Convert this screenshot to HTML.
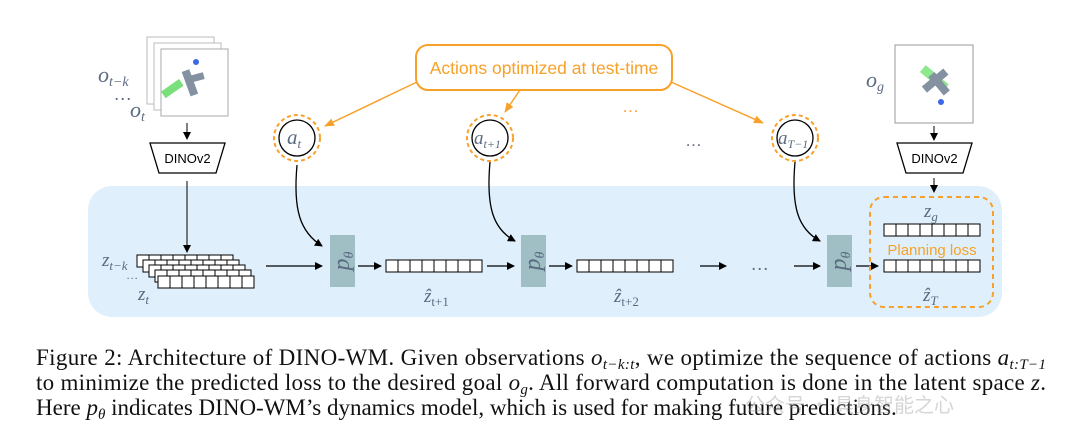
<!DOCTYPE html>
<html><head><meta charset="utf-8"><style>
html,body{margin:0;padding:0;background:#fff;}
svg{display:block}
.cap{font-family:"Liberation Serif",serif;font-size:23px;fill:#111}
.m{font-family:"Liberation Serif",serif;font-style:italic;fill:#5a6a80}
.s{font-family:"Liberation Sans",sans-serif}
</style></head><body>
<svg width="1080" height="433" viewBox="0 0 1080 433" xmlns="http://www.w3.org/2000/svg">
<defs>
<marker id="ab" markerWidth="8" markerHeight="8" refX="7" refY="4" orient="auto" markerUnits="userSpaceOnUse"><path d="M0,0 L8,4 L0,8 z" fill="#000"/></marker>
<marker id="ao" markerWidth="10" markerHeight="8" refX="9" refY="4" orient="auto" markerUnits="userSpaceOnUse"><path d="M0,0 L10,4 L0,8 z" fill="#f7a12a"/></marker>
<g id="vec"><rect x="0" y="0" width="96" height="12" fill="#fff" stroke="#000" stroke-width="1"/>
<path d="M12,0v12M24,0v12M36,0v12M48,0v12M60,0v12M72,0v12M84,0v12" stroke="#000" stroke-width="1"/></g>
</defs>
<rect x="88" y="186" width="914" height="131" rx="24" fill="#dff0fc"/>
<rect x="147" y="37" width="67" height="67" fill="#fff" stroke="#bbb"/>
<rect x="154" y="43" width="67" height="67" fill="#fff" stroke="#bbb"/>
<rect x="161" y="49" width="67" height="67" fill="#fff" stroke="#aaa"/>
<g transform="translate(190,86)">
<rect x="-12" y="5" width="8" height="22" fill="#7be07b" transform="rotate(55)"/>
<rect x="-3" y="-16" width="8" height="26" fill="#8391a1" transform="rotate(-20)"/>
<rect x="0" y="-10" width="16" height="7" fill="#8391a1" transform="rotate(-15)"/>
</g>
<circle cx="196" cy="62" r="3" fill="#3a68e6"/>
<text x="98" y="82" class="m" font-size="22">o<tspan font-size="14" dy="4">t−k</tspan></text>
<text x="115" y="100" class="m" font-size="18">…</text>
<text x="130" y="117" class="m" font-size="22">o<tspan font-size="14" dy="4">t</tspan></text>
<line x1="187" y1="123" x2="187" y2="139" stroke="#000" marker-end="url(#ab)"/>
<path d="M150,143 L225,143 L216,173 L159,173 Z" fill="#fff" stroke="#000" stroke-width="1.3"/>
<text x="187.5" y="163" text-anchor="middle" class="s" font-size="13">DINOv2</text>
<line x1="187" y1="181" x2="187" y2="252" stroke="#000" marker-end="url(#ab)"/>
<use href="#vec" x="137" y="255"/>
<use href="#vec" x="143" y="260"/>
<use href="#vec" x="149" y="265"/>
<use href="#vec" x="155" y="270"/>
<use href="#vec" x="158" y="276"/>
<text x="102" y="266" class="m" font-size="19">z<tspan font-size="13" dy="4">t−k</tspan></text>
<text x="127" y="279" class="m" font-size="12">…</text>
<text x="138" y="300" class="m" font-size="19">z<tspan font-size="13" dy="4">t</tspan></text>
<line x1="266" y1="266" x2="322" y2="266" stroke="#000" stroke-width="1.3" marker-end="url(#ab)"/>
<g id="p1"><rect x="330" y="235" width="25" height="52" fill="#9fbfc5"/>
<text transform="translate(349,261) rotate(-90)" text-anchor="middle" class="m" font-size="24" fill="#556">p<tspan font-size="14" dy="4">θ</tspan></text></g>
<use href="#p1" x="191"/>
<use href="#p1" x="497"/>
<line x1="358" y1="266" x2="381" y2="266" stroke="#000" stroke-width="1.3" marker-end="url(#ab)"/>
<use href="#vec" x="386" y="260"/>
<text x="424" y="302" class="m" font-size="19">ẑ<tspan font-size="13" dy="4" font-style="normal">t+1</tspan></text>
<line x1="487" y1="266" x2="514" y2="266" stroke="#000" stroke-width="1.3" marker-end="url(#ab)"/>
<line x1="549" y1="266" x2="572" y2="266" stroke="#000" stroke-width="1.3" marker-end="url(#ab)"/>
<use href="#vec" x="577" y="260"/>
<text x="614" y="302" class="m" font-size="19">ẑ<tspan font-size="13" dy="4" font-style="normal">t+2</tspan></text>
<line x1="700" y1="266" x2="726" y2="266" stroke="#000" stroke-width="1.3" marker-end="url(#ab)"/>
<text x="752" y="270" class="m" font-size="18" fill="#555">…</text>
<line x1="794" y1="266" x2="820" y2="266" stroke="#000" stroke-width="1.3" marker-end="url(#ab)"/>
<line x1="856" y1="266" x2="878" y2="266" stroke="#000" stroke-width="1.3" marker-end="url(#ab)"/>
<rect x="870" y="197" width="123" height="110" rx="14" fill="none" stroke="#f7a12a" stroke-width="2" stroke-dasharray="5,4"/>
<text x="924" y="217" class="m" font-size="19">z<tspan font-size="13" dy="4">g</tspan></text>
<use href="#vec" x="884" y="224"/>
<text x="932" y="255" text-anchor="middle" class="s" font-size="15" fill="#f7a12a">Planning loss</text>
<use href="#vec" x="884" y="260"/>
<text x="923" y="301" class="m" font-size="19">ẑ<tspan font-size="13" dy="4">T</tspan></text>
<rect x="895" y="45" width="78" height="78" fill="#fff" stroke="#999"/>
<g transform="translate(935,82)">
<rect x="-18" y="-7" width="30" height="9" fill="#8ee88e" transform="rotate(40)"/>
<rect x="-5" y="-15" width="8" height="28" fill="#8391a1" transform="rotate(50)"/>
<rect x="-2" y="-8" width="8" height="24" fill="#8391a1" transform="rotate(-40)"/>
</g>
<circle cx="941" cy="102" r="3" fill="#3a68e6"/>
<text x="866" y="87" class="m" font-size="22">o<tspan font-size="14" dy="4">g</tspan></text>
<line x1="934" y1="126" x2="934" y2="140" stroke="#000" marker-end="url(#ab)"/>
<path d="M897,143 L972,143 L963,173 L906,173 Z" fill="#fff" stroke="#000" stroke-width="1.3"/>
<text x="934.5" y="163" text-anchor="middle" class="s" font-size="13">DINOv2</text>
<line x1="934" y1="178" x2="934" y2="192" stroke="#000" marker-end="url(#ab)"/>
<rect x="416" y="45" width="256" height="45" rx="12" fill="#fff" stroke="#f7a12a" stroke-width="2"/>
<text x="544" y="74" text-anchor="middle" class="s" font-size="17.5" fill="#f7a12a">Actions optimized at test-time</text>
<line x1="417" y1="82" x2="325" y2="126" stroke="#f7a12a" stroke-width="1.5" marker-end="url(#ao)"/>
<line x1="520" y1="90" x2="505" y2="112" stroke="#f7a12a" stroke-width="1.5" marker-end="url(#ao)"/>
<line x1="671" y1="82" x2="763" y2="123" stroke="#f7a12a" stroke-width="1.5" marker-end="url(#ao)"/>
<text x="622" y="112" class="s" font-size="17" fill="#f7a12a">…</text>
<text x="685" y="146" class="s" font-size="17" fill="#667">…</text>
<g fill="#fff">
<circle cx="297" cy="138" r="23" fill="none" stroke="#f7a12a" stroke-width="2" stroke-dasharray="4,3"/>
<circle cx="297" cy="138" r="18" stroke="#000" stroke-width="1.3"/>
<circle cx="490" cy="138" r="23" fill="none" stroke="#f7a12a" stroke-width="2" stroke-dasharray="4,3"/>
<circle cx="490" cy="138" r="18" stroke="#000" stroke-width="1.3"/>
<circle cx="795" cy="138" r="23" fill="none" stroke="#f7a12a" stroke-width="2" stroke-dasharray="4,3"/>
<circle cx="795" cy="138" r="18" stroke="#000" stroke-width="1.3"/>
</g>
<text x="287" y="144" class="m" font-size="21">a<tspan font-size="13" dy="4">t</tspan></text>
<text x="474" y="144" class="m" font-size="19">a<tspan font-size="12" dy="4">t+1</tspan></text>
<text x="778" y="144" class="m" font-size="19">a<tspan font-size="12" dy="4">T−1</tspan></text>
<path d="M297,165 C293,210 300,232 322,246" fill="none" stroke="#000" stroke-width="1.3" marker-end="url(#ab)"/>
<path d="M490,162 C486,207 493,229 515,241" fill="none" stroke="#000" stroke-width="1.3" marker-end="url(#ab)"/>
<path d="M795,162 C791,207 798,229 820,241" fill="none" stroke="#000" stroke-width="1.3" marker-end="url(#ab)"/>
<text x="36" y="365" class="cap" textLength="1010" lengthAdjust="spacing">Figure 2: Architecture of DINO-WM. Given observations <tspan font-style="italic">o<tspan font-size="15" dy="4">t−k:t</tspan></tspan><tspan dy="-4">, we optimize the sequence of actions </tspan><tspan font-style="italic">a<tspan font-size="15" dy="4">t:T−1</tspan></tspan></text>
<text x="36" y="390" class="cap" textLength="1010" lengthAdjust="spacing">to minimize the predicted loss to the desired goal <tspan font-style="italic">o<tspan font-size="15" dy="4">g</tspan></tspan><tspan dy="-4">. All forward computation is done in the latent space </tspan><tspan font-style="italic">z</tspan>.</text>
<text x="36" y="415" class="cap">Here <tspan font-style="italic">p<tspan font-size="15" dy="4">θ</tspan></tspan><tspan dy="-4"> indicates DINO-WM’s dynamics model, which is used for making future predictions.</tspan></text>
<text x="745" y="412" font-family="'Noto Sans CJK SC',sans-serif" font-size="20" fill="#999" opacity="0.4">公众号 · 具身智能之心</text>
</svg>
</body></html>
